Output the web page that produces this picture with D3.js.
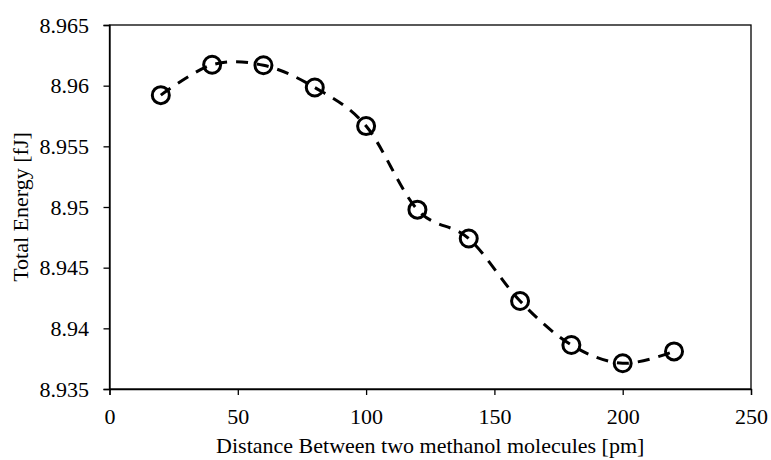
<!DOCTYPE html>
<html>
<head>
<meta charset="utf-8">
<script src="https://cdn.jsdelivr.net/npm/d3@7"></script>
<style>
  body { margin: 0; background: #fff; }
  svg text { font-family: "Liberation Serif", "Times New Roman", serif; fill: #000; }
</style>
</head>
<body>
<div id="chart"></div>
<script>
var distance = [20, 40, 60, 80, 100, 120, 140, 160, 180, 200, 220];
var energy = [8.95922, 8.96172, 8.96168, 8.95985, 8.95667, 8.94978, 8.94740, 8.94225, 8.93863, 8.93712, 8.93810];
var xTicks = [0, 50, 100, 150, 200, 250];
var yTicks = [8.935, 8.94, 8.945, 8.95, 8.955, 8.96, 8.965];

var data = distance.map(function(d, i){ return {x: d, y: energy[i]}; });

var margin = {top: 25, right: 20, bottom: 71, left: 109.5},
    width = 771 - margin.left - margin.right,
    height = 460 - margin.top - margin.bottom;

var svg = d3.select("#chart").append("svg")
    .attr("width", 771)
    .attr("height", 460)
  .append("g")
    .attr("transform", "translate(" + margin.left + "," + margin.top + ")");

var x = d3.scaleLinear().domain([0, 250]).range([0, width]);
var y = d3.scaleLinear().domain([8.935, 8.965]).range([height, 0]);

// frame
svg.append("rect")
    .attr("width", width)
    .attr("height", height)
    .attr("fill", "none")
    .attr("stroke", "#000")
    .attr("stroke-width", 1.3);

var xAxis = svg.append("g")
    .attr("transform", "translate(0," + height + ")")
    .call(d3.axisBottom(x).tickValues(xTicks).tickSize(6).tickPadding(13.5).tickFormat(d3.format("d")));

var yAxis = svg.append("g")
    .call(d3.axisLeft(y).tickValues(yTicks).tickSize(6).tickPadding(14.5).tickFormat(function(d){ return +d.toFixed(3); }));

[xAxis, yAxis].forEach(function(a){
  a.attr("font-family", null).attr("font-size", null);
  a.select(".domain").attr("stroke", "#000").attr("stroke-width", 1.3);
  a.selectAll(".tick line").attr("stroke", "#000").attr("stroke-width", 1.3);
  a.selectAll(".tick text")
      .style("font-family", "Liberation Serif")
      .style("font-size", "22px")
      .attr("fill", "#000");
});

var line = d3.line()
    .x(function(d){ return x(d.x); })
    .y(function(d){ return y(d.y); })
    .curve(d3.curveCatmullRom.alpha(0));

svg.append("path")
    .datum(data)
    .attr("d", line)
    .attr("fill", "none")
    .attr("stroke", "#000")
    .attr("stroke-width", 3)
    .attr("stroke-dasharray", "12,9");

svg.selectAll(".dot")
    .data(data)
  .enter().append("circle")
    .attr("class", "dot")
    .attr("cx", function(d){ return x(d.x); })
    .attr("cy", function(d){ return y(d.y); })
    .attr("r", 8.5)
    .attr("fill", "none")
    .attr("stroke", "#000")
    .attr("stroke-width", 3);

svg.append("text")
    .attr("x", width / 2)
    .attr("y", height + 64)
    .attr("text-anchor", "middle")
    .style("font-size", "22px")
    .text("Distance Between two methanol molecules [pm]");

svg.append("text")
    .attr("transform", "rotate(-90)")
    .attr("x", -height / 2)
    .attr("y", -82)
    .attr("text-anchor", "middle")
    .style("font-size", "22px")
    .text("Total Energy [fJ]");
</script>
</body>
</html>
